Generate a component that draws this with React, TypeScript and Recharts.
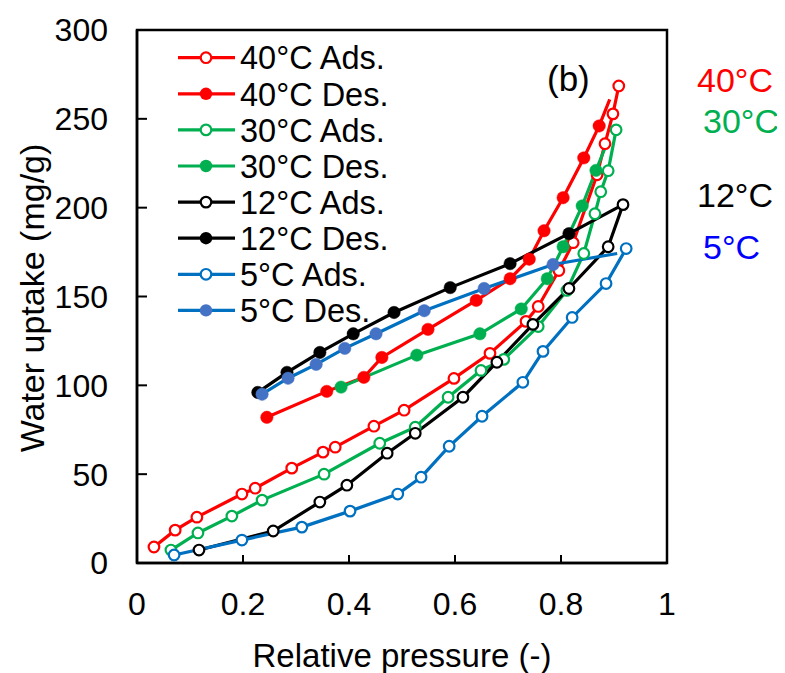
import React from "react";
import { LineChart, Line, XAxis, YAxis, ReferenceArea, Label } from "recharts";

const FONT = "'Liberation Sans', Arial, Helvetica, sans-serif";

// Relative pressure (P) and water uptake (U, mg/g) for each series
const ads40P = [0.032, 0.072, 0.113, 0.198, 0.223, 0.292, 0.351, 0.374, 0.447, 0.504, 0.598, 0.666, 0.734, 0.757, 0.796, 0.823, 0.868, 0.883, 0.898, 0.909];
const ads40U = [9, 18.5, 25.8, 38.8, 42.1, 53.4, 62.4, 65.2, 77, 86, 103.9, 118, 136, 144.4, 164.6, 180.3, 218.5, 236, 252.8, 268.5];
const des40P = [0.892, 0.872, 0.843, 0.804, 0.768, 0.74, 0.704, 0.64, 0.549, 0.462, 0.428, 0.358, 0.245];
const des40U = [261, 246, 228, 205.6, 187, 171, 160, 147.8, 131.5, 115.7, 104.5, 96.6, 82];

const ads30P = [0.064, 0.115, 0.179, 0.236, 0.353, 0.458, 0.525, 0.587, 0.649, 0.692, 0.757, 0.811, 0.843, 0.864, 0.875, 0.889, 0.904];
const ads30U = [7.3, 16.9, 26.4, 35.4, 50, 67.4, 76.4, 93.3, 108.4, 114.6, 133.1, 153.4, 174.2, 196.6, 209, 220.8, 243.8];
const des30P = [0.885, 0.866, 0.84, 0.804, 0.774, 0.725, 0.647, 0.528, 0.385];
const des30U = [235, 221, 201, 178, 160, 143, 129, 117, 99];

const ads12P = [0.117, 0.257, 0.345, 0.396, 0.472, 0.525, 0.615, 0.679, 0.747, 0.815, 0.889, 0.917];
const ads12U = [7.3, 18, 34.3, 43.8, 61.8, 73, 93.3, 113, 134.3, 154.5, 178, 201.7];
const des12P = [0.917, 0.815, 0.704, 0.591, 0.485, 0.408, 0.345, 0.283, 0.228];
const des12U = [201.7, 185.4, 168.5, 155, 141, 129, 118.5, 107.3, 96];

const ads5P = [0.07, 0.198, 0.311, 0.402, 0.492, 0.536, 0.589, 0.651, 0.728, 0.766, 0.821, 0.885, 0.923];
const ads5U = [4.5, 12.9, 20.2, 29.2, 38.8, 48.3, 65.7, 82.6, 101.7, 119.1, 138.2, 157.3, 177];
const des5P = [0.906, 0.785, 0.655, 0.542, 0.451, 0.392, 0.338, 0.285, 0.236];
const des5U = [174.2, 168, 154.5, 142, 129, 120.8, 111.8, 104, 95];

const xTicks = [0, 0.2, 0.4, 0.6, 0.8, 1];
const yTicks = [0, 50, 100, 150, 200, 250, 300];

const seriesNames = ["40°C Ads.", "40°C Des.", "30°C Ads.", "30°C Des.", "12°C Ads.", "12°C Des.", "5°C Ads.", "5°C Des."];
const tempLabels = ["40°C", "30°C", "12°C", "5°C"];

const toPts = (p: number[], u: number[]) => p.map((x, i) => ({ x, y: u[i] }));

const RED = "#FF0000";
const GREEN = "#00B050";
const BLACK = "#000000";
const BLUE = "#0070C0";
const BLUE_FILL = "#4472C4";

const series = [
  { name: seriesNames[0], data: toPts(ads40P, ads40U), color: RED, fill: RED, open: true },
  { name: seriesNames[1], data: toPts(des40P, des40U), color: RED, fill: RED, open: false },
  { name: seriesNames[2], data: toPts(ads30P, ads30U), color: GREEN, fill: GREEN, open: true },
  { name: seriesNames[3], data: toPts(des30P, des30U), color: GREEN, fill: GREEN, open: false },
  { name: seriesNames[4], data: toPts(ads12P, ads12U), color: BLACK, fill: BLACK, open: true },
  { name: seriesNames[5], data: toPts(des12P, des12U), color: BLACK, fill: BLACK, open: false },
  { name: seriesNames[6], data: toPts(ads5P, ads5U), color: BLUE, fill: BLUE, open: true },
  { name: seriesNames[7], data: toPts(des5P, des5U), color: BLUE, fill: BLUE_FILL, open: false },
];

const makeDot = (color: string, fill: string, open: boolean) => (props: any) => {
  const { cx, cy, index } = props;
  if (!open && index === 0) return <g key={`d${index}`} />;
  if (open)
    return <circle key={`d${index}`} cx={cx} cy={cy} r={5.3} fill="#fff" stroke={color} strokeWidth={2.2} />;
  return <circle key={`d${index}`} cx={cx} cy={cy} r={6.2} fill={fill} stroke={fill} strokeWidth={0.5} />;
};

const LegendBox = () => (
  <svg width={240} height={300} style={{ display: "block" }}>
    {series.map((s, i) => {
      const cy = 22.7 + i * 36.1;
      return (
        <g key={s.name}>
          <line x1={8} x2={65} y1={cy} y2={cy} stroke={s.color} strokeWidth={3.2} />
          {s.open ? (
            <circle cx={36} cy={cy} r={5.3} fill="#fff" stroke={s.color} strokeWidth={2.2} />
          ) : (
            <circle cx={36} cy={cy} r={6.2} fill={s.fill} />
          )}
          <text x={70} y={cy + 11.7} fontSize={32.5} fontFamily={FONT} fill="#000">
            {s.name}
          </text>
        </g>
      );
    })}
  </svg>
);

const fmtX = (v: number) => (v === 0 ? "0" : v === 1 ? "1" : String(v));

export default function App() {
  const tempColors = [RED, GREEN, BLACK, "#0000FF"];
  const tempLeft = [689, 695, 689, 695];
  const tempCY = [72, 113, 187, 239];
  return (
    <div style={{ position: "relative", width: 777, height: 665, fontFamily: FONT }}>
      <LineChart width={777} height={665} margin={{ top: 22, right: 118, bottom: 0, left: 0 }}>
        <XAxis
          dataKey="x"
          type="number"
          domain={[0, 1]}
          ticks={xTicks}
          tickFormatter={fmtX}
          allowDataOverflow
          height={110}
          tickSize={-8}
          tickMargin={37}
          axisLine={{ stroke: "#000", strokeWidth: 2.5 }}
          tickLine={{ stroke: "#000", strokeWidth: 2 }}
          tick={{ fill: "#000", fontSize: 32, fontFamily: FONT }}
        >
          <Label value="Relative pressure (-)" position="insideBottom" offset={6} style={{ fontSize: 33, fontFamily: FONT, fill: "#000" }} />
        </XAxis>
        <YAxis
          dataKey="y"
          type="number"
          domain={[0, 300]}
          ticks={yTicks}
          width={129}
          tickSize={-10}
          tickMargin={39}
          axisLine={{ stroke: "#000", strokeWidth: 2.5 }}
          tickLine={{ stroke: "#000", strokeWidth: 2 }}
          tick={{ fill: "#000", fontSize: 32, fontFamily: FONT }}
        />
        <ReferenceArea x1={0} x2={1} y1={0} y2={300} fill="none" stroke="#000" strokeWidth={2.5} ifOverflow="visible" />
        {series.map((s) => (
          <Line
            key={s.name}
            data={s.data}
            dataKey="y"
            name={s.name}
            type="linear"
            stroke={s.color}
            strokeWidth={3.2}
            dot={makeDot(s.color, s.fill, s.open)}
            activeDot={false}
            isAnimationActive={false}
            legendType="none"
          />
        ))}
      </LineChart>
      <div style={{ position: "absolute", left: 162, top: 27 }}>
        <LegendBox />
      </div>
      <div
        style={{
          position: "absolute",
          left: 24,
          top: 290,
          transform: "translate(-50%, -50%) rotate(-90deg)",
          whiteSpace: "nowrap",
          fontSize: 34,
          lineHeight: "34px",
          color: "#000",
        }}
      >
        Water uptake (mg/g)
      </div>
      <div style={{ position: "absolute", left: 539, top: 70 - 17, fontSize: 35, lineHeight: "35px", color: "#000" }}>(b)</div>
      {tempLabels.map((t, i) => (
        <div
          key={t}
          style={{
            position: "absolute",
            left: tempLeft[i],
            top: tempCY[i] - 17,
            fontSize: 34,
            lineHeight: "34px",
            color: tempColors[i],
            whiteSpace: "nowrap",
          }}
        >
          {t}
        </div>
      ))}
    </div>
  );
}
